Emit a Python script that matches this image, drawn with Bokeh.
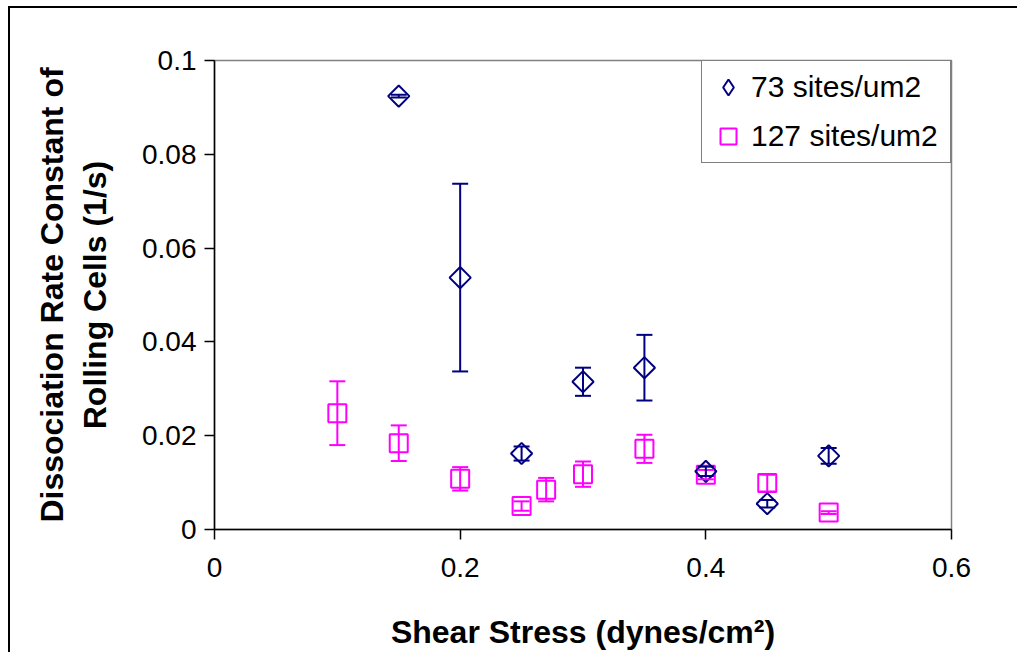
import numpy as np
from bokeh.plotting import figure
from bokeh.models import (ColumnDataSource, Whisker, TeeHead, Legend, LegendItem,
                          FixedTicker, CustomJSTickFormatter, Range1d)
from bokeh.embed import file_html
from bokeh.resources import INLINE

# ---- data ----
x_73 = [0.15, 0.20, 0.25, 0.30, 0.35, 0.40, 0.45, 0.50]
y_73 = [0.0924, 0.0537, 0.0162, 0.0315, 0.0345, 0.0124, 0.0055, 0.0157]
e_73 = [0.0003, 0.0200, 0.0015, 0.0030, 0.0070, 0.0010, 0.0008, 0.0017]

x_127 = [0.10, 0.15, 0.20, 0.25, 0.27, 0.30, 0.35, 0.40, 0.45, 0.50]
y_127 = [0.0248, 0.0184, 0.0108, 0.0050, 0.0085, 0.0118, 0.0172, 0.0117, 0.0099, 0.0036]
e_127 = [0.0068, 0.0038, 0.0025, 0.0010, 0.0025, 0.0027, 0.0030, 0.0010, 0.0018, 0.0003]

x_ticks = [0, 0.2, 0.4, 0.6]
y_ticks = [0, 0.02, 0.04, 0.06, 0.08, 0.1]

series_names = ["73 sites/um2", "127 sites/um2"]
x_title = "Shear Stress (dynes/cm\u00b2)"
y_title = "Dissociation Rate Constant of\nRolling Cells (1/s)"

NAVY = "#000080"
MAGENTA = "#FF00FF"
FONT = "Liberation Sans"

p = figure(width=1017, height=652, output_backend="svg", toolbar_location=None,
           x_range=Range1d(0, 0.6), y_range=Range1d(0, 0.1),
           min_border_left=214, min_border_right=66, min_border_top=60, min_border_bottom=122)
p.background_fill_color = "white"
p.border_fill_alpha = 0
p.outline_line_color = "#808080"
p.outline_line_width = 1.5
p.xgrid.visible = False
p.ygrid.visible = False
# outer chart-area border (left and top edges; the others run off the page)
p.styles = {"background": "linear-gradient(#000, #000) 8px 6px / 2px 3000px no-repeat, "
                          "linear-gradient(#000, #000) 8px 6px / 3000px 2px no-repeat, #fff"}

fmt = CustomJSTickFormatter(code="return String(Number(tick.toFixed(4)));")
for ax, ticks in ((p.xaxis[0], x_ticks), (p.yaxis[0], y_ticks)):
    ax.ticker = FixedTicker(ticks=ticks)
    ax.formatter = fmt
    ax.minor_tick_line_color = None
    ax.major_tick_out = 10
    ax.major_tick_in = 0
    ax.axis_line_color = "black"
    ax.axis_line_width = 1.5
    ax.major_tick_line_color = "black"
    ax.major_tick_line_width = 1.5
    ax.major_label_text_font = FONT
    ax.major_label_text_font_size = "28px"
    ax.major_label_text_color = "black"
    ax.axis_label_text_font = FONT
    ax.axis_label_text_font_size = "32px"
    ax.axis_label_text_font_style = "bold"
    ax.axis_label_text_color = "black"

p.xaxis.axis_label = x_title
p.yaxis.axis_label = y_title
p.xaxis.major_label_standoff = 18
p.xaxis.axis_label_standoff = 34
p.yaxis.major_label_standoff = 8
p.yaxis.axis_label_standoff = 26

src73 = ColumnDataSource(dict(x=x_73, y=y_73,
                              upper=[a + b for a, b in zip(y_73, e_73)],
                              lower=[a - b for a, b in zip(y_73, e_73)]))
src127 = ColumnDataSource(dict(x=x_127, y=y_127,
                               upper=[a + b for a, b in zip(y_127, e_127)],
                               lower=[a - b for a, b in zip(y_127, e_127)]))

r127 = p.scatter("x", "y", source=src127, marker="square", size=18,
                 fill_alpha=0, line_color=MAGENTA, line_width=2)
w127 = Whisker(source=src127, base="x", upper="upper", lower="lower", dimension="height",
               line_color=MAGENTA, line_width=2, level="annotation",
               upper_head=TeeHead(size=16, line_color=MAGENTA, line_width=2),
               lower_head=TeeHead(size=16, line_color=MAGENTA, line_width=2))
p.add_layout(w127)

r73 = p.scatter("x", "y", source=src73, marker="square", angle=np.pi / 4, size=15,
                fill_alpha=0, line_color=NAVY, line_width=2)
w73 = Whisker(source=src73, base="x", upper="upper", lower="lower", dimension="height",
              line_color=NAVY, line_width=2, level="annotation",
              upper_head=TeeHead(size=16, line_color=NAVY, line_width=2),
              lower_head=TeeHead(size=16, line_color=NAVY, line_width=2))
p.add_layout(w73)

# legend symbol stand-ins (a single NaN point, so nothing is drawn in the plot)
leg73 = p.scatter(x=np.array([np.nan]), y=np.array([np.nan]), marker="diamond", size=10,
                  fill_alpha=0, line_color=NAVY, line_width=2)
leg127 = p.scatter(x=np.array([np.nan]), y=np.array([np.nan]), marker="square", size=10,
                   fill_alpha=0, line_color=MAGENTA, line_width=2)

legend = Legend(items=[LegendItem(label=series_names[0], renderers=[leg73]),
                       LegendItem(label=series_names[1], renderers=[leg127])],
                location="top_right", margin=0, padding=6, spacing=9,
                glyph_width=40, glyph_height=40, label_height=40, label_standoff=3,
                label_width=193,
                label_text_font=FONT, label_text_font_size="30px", label_text_color="black",
                border_line_color="black", border_line_width=1,
                background_fill_color="white", background_fill_alpha=1)
p.add_layout(legend)

open("out.html", "w").write(file_html(p, INLINE))
